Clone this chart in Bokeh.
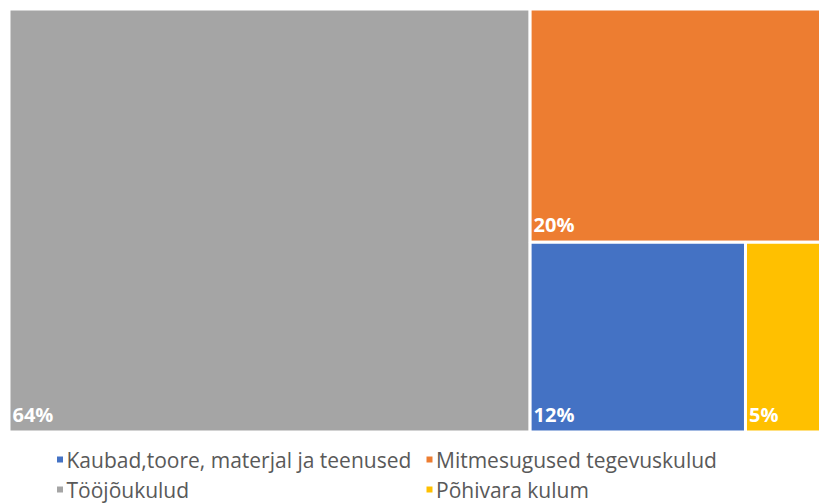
from bokeh.plotting import figure
from bokeh.models import Range1d, ColumnDataSource
from bokeh.core.properties import value
from bokeh.embed import file_html
from bokeh.resources import INLINE

# ---- data ----
categories = ["Tööjõukulud", "Mitmesugused tegevuskulud",
              "Kaubad,toore, materjal ja teenused", "Põhivara kulum"]
shares = [64.2, 19.8, 11.9, 4.2]          # area shares as drawn
share_labels = ["64%", "20%", "12%", "5%"]
colors = ["#A5A5A5", "#ED7D31", "#4472C4", "#FFC000"]
legend_order = ["Kaubad,toore, materjal ja teenused", "Mitmesugused tegevuskulud",
                "Tööjõukulud", "Põhivara kulum"]

W, H = 819, 503
FONT = "Open Sans"


def worst(row, w):
    s = sum(row)
    return max(max(w * w * r / (s * s), (s * s) / (w * w * r)) for r in row)


def layout_row(row, x, y, dx, dy, rects):
    s = sum(row)
    if dx >= dy:  # column on the left
        width = s / dy
        cy = y
        for r in row:
            h = r / width
            rects.append((x, cy, x + width, cy + h))
            cy += h
        return x + width, y, dx - width, dy
    else:  # row on top
        height = s / dx
        cx = x
        for r in row:
            w = r / height
            rects.append((cx, y, cx + w, y + height))
            cx += w
        return x, y + height, dx, dy - height


def squarify(vals, x, y, dx, dy):
    total = sum(vals)
    areas = [v * dx * dy / total for v in vals]
    rects, row = [], []
    i = 0
    while i < len(areas):
        a = areas[i]
        side = min(dx, dy)
        if not row or worst(row + [a], side) <= worst(row, side):
            row.append(a)
            i += 1
        else:
            x, y, dx, dy = layout_row(row, x, y, dx, dy, rects)
            row = []
    if row:
        layout_row(row, x, y, dx, dy, rects)
    return rects


box_x0, box_y0, box_x1, box_y1 = 8.5, 8.5, 821.0, 431.5
rects = squarify(shares, box_x0, box_y0, box_x1 - box_x0, box_y1 - box_y0)

src = ColumnDataSource(dict(
    left=[r[0] for r in rects], right=[r[2] for r in rects],
    top=[r[1] for r in rects], bottom=[r[3] for r in rects],
    color=colors, name=categories, label=share_labels,
    lx=[r[0] + 3.5 for r in rects], ly=[r[3] - 18 for r in rects],
))

p = figure(width=W, height=H, output_backend="svg", toolbar_location=None,
           x_range=Range1d(0, W), y_range=Range1d(H, 0), min_border=0,
           background_fill_color="white", border_fill_color="white")
p.axis.visible = False
p.grid.visible = False
p.outline_line_color = None

p.quad(left="left", right="right", top="top", bottom="bottom", source=src,
       fill_color="color", line_color="white", line_width=3)
p.text(x="lx", y="ly", text="label", source=src, text_color="white",
       text_font=value(FONT), text_font_style="bold", text_font_size="20px",
       text_baseline="middle", text_align="left")

# ---- legend (two columns, two rows) ----
col_x = [59.5, 429.0]
row_y = [459.0, 489.0]
leg = dict(mx=[], my=[], tx=[], ty=[], c=[], t=[])
for k, name in enumerate(legend_order):
    ci, ri = k % 2, k // 2
    leg["mx"].append(col_x[ci])
    leg["my"].append(row_y[ri])
    leg["tx"].append(col_x[ci] + 6.5)
    leg["ty"].append(row_y[ri])
    leg["c"].append(colors[categories.index(name)])
    leg["t"].append(name)
lsrc = ColumnDataSource(leg)
p.scatter(x="mx", y="my", source=lsrc, marker="square", size=6,
          fill_color="c", line_color=None)
p.text(x="tx", y="ty", text="t", source=lsrc, text_color="#595959",
       text_font=value(FONT), text_font_size="21px",
       text_baseline="middle", text_align="left")

open("out.html", "w").write(file_html(p, INLINE))
